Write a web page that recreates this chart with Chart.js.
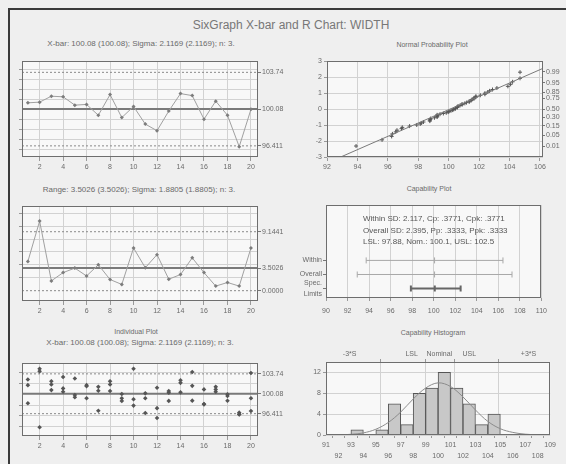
<!DOCTYPE html>
<html><head><meta charset="utf-8">
<script src="https://cdn.jsdelivr.net/npm/chart.js@4.4.1/dist/chart.umd.min.js"></script>
<style>
html,body{margin:0;padding:0;background:#efefef;}
#wrap{position:relative;width:566px;height:464px;overflow:hidden;background:#efefef;font-family:"Liberation Sans",Arial,sans-serif;color:#6a6a6a;}
.fr{position:absolute;background:#3a3a3a;}
.t{position:absolute;white-space:nowrap;transform:translate(-50%,-50%);font-size:7px;line-height:1;}
.s{font-size:8px;}
.main{font-size:12px;color:#777;}
canvas{position:absolute;}
</style></head>
<body><div id="wrap">
<div class="fr" style="left:8px;top:8px;width:558px;height:2px"></div>
<div class="fr" style="left:8px;top:8px;width:2px;height:456px"></div>
<div class="t main" style="left:291px;top:25px">SixGraph X-bar and R Chart: WIDTH</div>
<div class="t s" style="left:141px;top:44px">X-bar: 100.08 (100.08); Sigma: 2.1169 (2.1169); n: 3.</div>
<div class="t" style="left:432px;top:44px">Normal Probability Plot</div>
<div class="t s" style="left:139px;top:190px">Range: 3.5026 (3.5026); Sigma: 1.8805 (1.8805); n: 3.</div>
<div class="t" style="left:429px;top:188px">Capability Plot</div>
<div class="t" style="left:136px;top:331px">Individual Plot</div>
<div class="t s" style="left:140px;top:343px">X-bar: 100.08 (100.08); Sigma: 2.1169 (2.1169); n: 3.</div>
<div class="t" style="left:433px;top:332px">Capability Histogram</div>
<canvas id="c1"></canvas><canvas id="c2"></canvas><canvas id="c3"></canvas>
<canvas id="c4"></canvas><canvas id="c5"></canvas><canvas id="c6"></canvas>
</div>
<script>
// ---------------- DATA ----------------
const subgroups = [1,2,3,4,5,6,7,8,9,10,11,12,13,14,15,16,17,18,19,20];
const xbarValues = [100.70,100.77,101.36,101.30,100.47,100.54,99.46,101.52,99.23,100.34,98.58,97.92,99.88,101.62,101.42,99.07,100.87,99.46,96.33,100.05];
const xbarLimits = [96.411,100.08,103.74];
const xbarLimitLabels = ['96.411','100.08','103.74'];
const rangeValues = [4.53,10.79,1.52,2.80,3.50,2.28,4.02,1.73,0.97,6.62,3.56,5.59,1.78,2.50,5.09,2.80,0.71,1.27,0.71,6.62];
const rangeLimits = [0.0,3.5026,9.1441];
const rangeLimitLabels = ['0.0000','3.5026','9.1441'];
const obs1 = [102.69,104.69,102.38,103.17,102.88,101.66,101.35,102.38,100.02,104.69,100.15,101.17,100.57,102.57,104.07,100.88,101.35,99.97,96.60,103.89];
const obs2 = [101.66,104.20,101.79,101.06,99.84,101.48,100.62,101.79,99.24,99.06,99.24,97.43,100.26,102.08,101.53,98.20,100.88,99.65,96.30,99.24];
const obs3 = [98.34,93.91,100.75,100.44,99.43,99.24,96.95,100.57,98.76,97.90,96.52,95.62,98.76,100.33,98.81,98.13,100.44,98.79,96.25,96.90];
const xTicks = [2,4,6,8,10,12,14,16,18,20];
const probLabels = [0.01,0.05,0.15,0.30,0.50,0.75,0.85,0.95,0.99];
const normRefX = [92.9,107.27];   // reference line end points (value axis)
const normRefZ = [-3,3];
const capRows = ['Spec. Limits','Overall','Within'];
const specInterval = [97.88,100.1,102.5];
const overallInterval = [92.90,100.08,107.27];
const withinInterval = [93.73,100.08,106.43];
const capText = ['Within SD: 2.117, Cp: .3771, Cpk: .3771','Overall SD: 2.395, Pp: .3333, Ppk: .3333','LSL: 97.88, Nom.: 100.1, USL: 102.5'];
const histBinStarts = [93,94,95,96,97,98,99,100,101,102,103,104];
const histCounts = [1,0,1,6,2,8,9,12,9,6,2,4];
const curveX = [91,92,93,94,95,96,97,98,99,100,101,102,103,104,105,106,107,108,109];
const curveY = [0.01,0.03,0.13,0.4,1.1,2.4,4.4,6.9,9.0,10.0,9.3,7.3,4.8,2.6,1.2,0.5,0.16,0.04,0.01];
const histMarkers = [92.9,97.88,100.1,102.5,107.26];
const histMarkerLabels = ['-3*S','LSL','Nominal','USL','+3*S'];

// ---------------- HELPERS ----------------
const FAM = '"Liberation Sans", Arial, sans-serif';
const F = {family:FAM,size:7,lineHeight:1.2};
const TC = '#6a6a6a', GC = '#d2d2d2';
Chart.defaults.font.family = FAM;
Chart.defaults.font.size = 7;
Chart.defaults.color = TC;
function ticksAt(vals){ return s=>{ s.ticks = vals.map(v=>({value:v})); }; }
function fixW(w){ return s=>{ s.width = w; }; }
function fixH(h){ return s=>{ s.height = h; }; }
function invNorm(p){
 const a=[-3.969683028665376e+01,2.209460984245205e+02,-2.759285104469687e+02,1.383577518672690e+02,-3.066479806614716e+01,2.506628277459239e+00];
 const b=[-5.447609879822406e+01,1.615858368580409e+02,-1.556989798598866e+02,6.680131188771972e+01,-1.328068155288572e+01];
 const c=[-7.784894002430293e-03,-3.223964580411365e-01,-2.400758277161838e+00,-2.549732539343734e+00,4.374664141464968e+00,2.938163982698783e+00];
 const d=[7.784695709041462e-03,3.224671290700398e-01,2.445134137142996e+00,3.754408661907416e+00];
 const pl=0.02425; let q,r;
 if(p<pl){q=Math.sqrt(-2*Math.log(p));return (((((c[0]*q+c[1])*q+c[2])*q+c[3])*q+c[4])*q+c[5])/((((d[0]*q+d[1])*q+d[2])*q+d[3])*q+1);}
 if(p<=1-pl){q=p-0.5;r=q*q;return (((((a[0]*r+a[1])*r+a[2])*r+a[3])*r+a[4])*r+a[5])*q/(((((b[0]*r+b[1])*r+b[2])*r+b[3])*r+b[4])*r+1);}
 q=Math.sqrt(-2*Math.log(1-p));return -(((((c[0]*q+c[1])*q+c[2])*q+c[3])*q+c[4])*q+c[5])/((((d[0]*q+d[1])*q+d[2])*q+d[3])*q+1);
}
const panelPlugin = {
 id:'panel',
 beforeDraw(chart,args,o){ const a=chart.chartArea,c=chart.ctx; c.save(); c.fillStyle='#f8f8f8'; c.fillRect(a.left,a.top,a.right-a.left,a.bottom-a.top); c.restore(); },
 beforeDatasetsDraw(chart,args,o){
   const a=chart.chartArea,c=chart.ctx;
   (o.lines||[]).forEach(l=>{ const sc=chart.scales[l.axis||'y']; const p=sc.getPixelForValue(l.value);
     c.save(); c.strokeStyle=l.color; c.lineWidth=l.width; c.setLineDash(l.dash||[]); c.beginPath();
     c.moveTo(a.left,p); c.lineTo(a.right,p); c.stroke(); c.restore(); });
 },
 afterDraw(chart,args,o){
   const a=chart.chartArea,c=chart.ctx; c.save();
   c.strokeStyle='#6e6e6e'; c.lineWidth=1;
   c.strokeRect(Math.round(a.left)+0.5,Math.round(a.top)+0.5,Math.round(a.right-a.left)-1,Math.round(a.bottom-a.top)-1);
   (o.texts||[]).forEach(t=>{ c.fillStyle='#555'; c.font='8px '+FAM; c.textBaseline='middle'; c.fillText(t.text,a.left+t.dx,a.top+t.dy); });
   c.restore();
 }
};
Chart.register(panelPlugin);

function place(id, plotL, plotT, plotR, plotB, Lw, Tw, Rw, Bw){
  const el=document.getElementById(id);
  const left=plotL-Lw, top=plotT-Tw;
  el.width=plotR+Rw-left; el.height=plotB+Bw-top;
  el.style.left=left+'px'; el.style.top=top+'px';
  el.style.width=el.width+'px'; el.style.height=el.height+'px';
  return el;
}
function baseOpts(extra){
  return Object.assign({responsive:false, animation:false, devicePixelRatio:1,
    plugins:{legend:{display:false},tooltip:{enabled:false}}}, extra);
}
function ctlLines(lim){
  return [{value:lim[0],color:'#8a8a8a',width:1,dash:[2,2]},
          {value:lim[2],color:'#8a8a8a',width:1,dash:[2,2]},
          {value:lim[1],color:'#7a7a7a',width:2}];
}
function xSub(h){
  return {type:'linear',min:0.5,max:20.6,afterBuildTicks:ticksAt(xTicks),
    ticks:{font:F,color:TC,padding:2,maxRotation:0,autoSkip:false},
    grid:{color:GC,tickLength:4,tickColor:'#999'},border:{display:false},afterFit:fixH(h)};
}
function yLeft(min,max,gridVals,w){
  return {position:'left',min,max,afterBuildTicks:ticksAt(gridVals),ticks:{display:false},
    grid:{color:GC,tickLength:3,tickColor:'#999'},border:{display:false},afterFit:fixW(w)};
}
function yRight(min,max,vals,labels,w){
  return {position:'right',min,max,afterBuildTicks:ticksAt(vals),
    ticks:{font:F,color:TC,padding:1,autoSkip:false,callback:(v)=>labels[vals.indexOf(v)]},
    grid:{drawOnChartArea:false,tickLength:3,tickColor:'#777'},border:{display:false},afterFit:fixW(w)};
}

// ---------- Panel 1: X-bar ----------
new Chart(place('c1',22,60,258,157,12,4,30,16),{
  type:'line',
  data:{datasets:[{data:subgroups.map((s,i)=>({x:s,y:xbarValues[i]})),borderColor:'#a0a0a0',borderWidth:1,
    pointStyle:'rectRot',pointRadius:2,pointBackgroundColor:'#7c7c7c',pointBorderWidth:0,tension:0}]},
  options:baseOpts({layout:{padding:{top:4}},plugins:{legend:{display:false},tooltip:{enabled:false},panel:{lines:ctlLines(xbarLimits)}},
    scales:{x:xSub(16),y:yLeft(95.3,104.85,[96,97,98,99,101,102,103,104],12),yR:yRight(95.3,104.85,xbarLimits,xbarLimitLabels,30)}})
});

// ---------- Panel 3: Range ----------
new Chart(place('c3',22,205,258,301,12,4,30,16),{
  type:'line',
  data:{datasets:[{data:subgroups.map((s,i)=>({x:s,y:rangeValues[i]})),borderColor:'#a0a0a0',borderWidth:1,
    pointStyle:'rectRot',pointRadius:2,pointBackgroundColor:'#7c7c7c',pointBorderWidth:0}]},
  options:baseOpts({layout:{padding:{top:4}},plugins:{legend:{display:false},tooltip:{enabled:false},panel:{lines:ctlLines(rangeLimits)}},
    scales:{x:xSub(16),y:yLeft(-1.6,13.1,[2,4,6,8,10,12],12),yR:yRight(-1.6,13.1,rangeLimits,rangeLimitLabels,30)}})
});

// ---------- Panel 5: Individuals ----------
const indPts = [];
subgroups.forEach((s,i)=>{ [obs1,obs2,obs3].forEach(arr=>indPts.push({x:s,y:arr[i]})); });
new Chart(place('c5',22,362,258,436,12,4,30,16),{
  type:'line',
  data:{datasets:[{data:indPts,showLine:false,pointStyle:'rectRot',pointRadius:2.3,pointBackgroundColor:'#555',pointBorderWidth:0}]},
  options:baseOpts({layout:{padding:{top:4}},plugins:{legend:{display:false},tooltip:{enabled:false},panel:{lines:ctlLines(xbarLimits)}},
    scales:{x:xSub(16),y:yLeft(92.3,105.7,[94,96,98,102,104],12),yR:yRight(92.3,105.7,xbarLimits,xbarLimitLabels,30)}})
});

// ---------- Panel 2: Normal probability ----------
const allObs = obs1.concat(obs2,obs3).slice().sort((a,b)=>a-b);
const nObs = allObs.length;
const normPts = allObs.map((v,i)=>({x:v,y:invNorm((i+1-0.375)/(nObs+0.25))}));
const probZ = probLabels.map(p=>invNorm(p));
new Chart(place('c2',327,60,543,157,27,5,23,16),{
  type:'line',
  data:{datasets:[
    {data:normRefX.map((x,i)=>({x,y:normRefZ[i]})),borderColor:'#7a7a7a',borderWidth:1,pointRadius:0},
    {data:normPts,showLine:false,pointStyle:'cross',pointRadius:2,pointBorderColor:'#555',pointBorderWidth:1}
  ]},
  options:baseOpts({layout:{padding:{top:5}},
    scales:{
      x:{type:'linear',min:92,max:106.2,afterBuildTicks:ticksAt([92,94,96,98,100,102,104,106]),
         ticks:{font:F,color:TC,padding:2,maxRotation:0,autoSkip:false},grid:{color:GC,tickLength:4,tickColor:'#999'},border:{display:false},afterFit:fixH(16)},
      y:{position:'left',min:-3,max:3,afterBuildTicks:ticksAt([-3,-2,-1,0,1,2,3]),
         ticks:{font:F,color:TC,padding:2},grid:{color:GC,tickLength:3,tickColor:'#999'},border:{display:false},afterFit:fixW(27)},
      yR:{position:'right',min:-3,max:3,afterBuildTicks:ticksAt(probZ),
         ticks:{font:F,color:TC,padding:1,autoSkip:false,callback:(v)=>probLabels[probZ.indexOf(v)].toFixed(2)},
         grid:{drawOnChartArea:false,tickLength:2,tickColor:'#777'},border:{display:false},afterFit:fixW(23)}
    }})
});

// ---------- Panel 4: Capability plot ----------
function capSet(vals,row,color,width){
  return {data:vals.map(x=>({x,y:row+1})),borderColor:color,borderWidth:width,
    pointStyle:'line',rotation:90,pointRadius:3,pointBorderColor:color,pointBorderWidth:width};
}
new Chart(place('c4',326,203,545,298,36,4,8,20),{
  type:'line',
  data:{datasets:[
    capSet(withinInterval,2,'#a8a8a8',1),
    capSet(overallInterval,1,'#a8a8a8',1),
    capSet(specInterval,0,'#666',2)
  ]},
  options:baseOpts({layout:{padding:{top:4}},
    plugins:{legend:{display:false},tooltip:{enabled:false},
      panel:{texts:capText.map((t,i)=>({text:t,dx:37,dy:14+i*11.5}))}},
    scales:{
      x:{type:'linear',min:90,max:110,afterBuildTicks:ticksAt([90,92,94,96,98,100,102,104,106,108,110]),
         ticks:{font:F,color:TC,padding:6,maxRotation:0,autoSkip:false},grid:{color:GC,tickLength:3,tickColor:'#999'},border:{display:false},afterFit:fixH(20)},
      y:{position:'left',min:0.33,max:6.93,afterBuildTicks:ticksAt([1,2,3]),
         ticks:{font:{family:FAM,size:7,lineHeight:1.45},color:TC,padding:1,autoSkip:false,
           callback:(v)=>{const s=capRows[v-1]; return s.indexOf(' ')>0 && v===1 ? s.split(' ') : s;}},
         grid:{drawOnChartArea:false,tickLength:3,tickColor:'#777'},border:{display:false},afterFit:fixW(36)}
    }})
});

// ---------- Panel 6: Capability histogram ----------
new Chart(place('c6',326,362,544,435,30,14,14,29),{
  type:'bar',
  data:{datasets:[
    {type:'line',data:curveX.map((x,i)=>({x,y:curveY[i]})),borderColor:'#8c8c8c',borderWidth:1,pointRadius:0,tension:0.35,order:0},
    {data:histBinStarts.map((b,i)=>({x:b+0.5,y:histCounts[i]})),backgroundColor:'#c8c8c8',borderColor:'#555',borderWidth:1,
     barPercentage:1,categoryPercentage:1,order:1}
  ]},
  options:baseOpts({
    scales:{
      x:{type:'linear',offset:false,min:91,max:109,afterBuildTicks:ticksAt(curveX),
         ticks:{font:{family:FAM,size:7,lineHeight:1.55},color:TC,padding:2,maxRotation:0,autoSkip:false,
           callback:(v)=> (v%2===1) ? String(v) : ['',String(v)]},
         grid:{drawOnChartArea:false,tickLength:3,tickColor:'#999'},border:{display:false},afterFit:fixH(29)},
      xTop:{type:'linear',position:'top',offset:false,min:91,max:109,afterBuildTicks:ticksAt(histMarkers),
         ticks:{font:F,color:TC,padding:1,maxRotation:0,autoSkip:false,callback:(v)=>histMarkerLabels[histMarkers.indexOf(v)]},
         grid:{color:GC,tickLength:3,tickColor:'#999'},border:{display:false},afterFit:fixH(14)},
      y:{position:'left',min:0,max:14,afterBuildTicks:ticksAt([0,2,4,6,8,10,12,14]),
         ticks:{font:F,color:TC,padding:2},grid:{color:GC,tickLength:3,tickColor:'#999'},border:{display:false},afterFit:fixW(30)}
    }})
});
</script>
</body></html>
